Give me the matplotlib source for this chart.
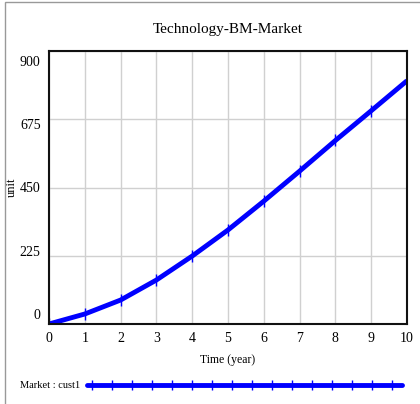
import numpy as np
import matplotlib.pyplot as plt
from matplotlib.lines import Line2D
from matplotlib.patches import Rectangle
import matplotlib.transforms as mtransforms

plt.rcParams['font.family'] = 'Liberation Serif'

# dati
years = [0, 1, 2, 3, 4, 5, 6, 7, 8, 9, 10]
cust1 = [0, 33, 79, 145, 224, 310, 405, 504, 605, 703, 802]
y_ticks = [0, 225, 450, 675, 900]
x_ticks = [0, 1, 2, 3, 4, 5, 6, 7, 8, 9, 10]

fig = plt.figure(figsize=(4.2, 4.04), dpi=100)
ax = fig.add_axes([49/420, 1-324/404, (407-49)/420, (324-51)/404])

ax.plot(years, cust1, color=(0, 0, 1), linewidth=3.5, marker='|', markersize=8,
        markeredgewidth=1, solid_capstyle='butt')
ax.set_xlim(0, 10)
ax.set_ylim(0, 900)
ax.set_xticks(x_ticks)
ax.set_yticks(y_ticks)
ax.grid(True, color='#d0d0d0', linewidth=1)
ax.set_axisbelow(True)
ax.tick_params(length=0, labelsize=10, pad=6)
for s in ax.spines.values():
    s.set_linewidth(1.5)
    s.set_color('#111111')

# le etichette y sono compresse verso il centro (stile Vensim)
for v, lab in zip(y_ticks, ax.get_yticklabels()):
    dy = -(v - 450) / 450 * 10 * 0.72
    lab.set_transform(lab.get_transform() + mtransforms.ScaledTranslation(0, dy/72, fig.dpi_scale_trans))

ax.set_xlabel('Time (year)', fontsize=8.5, labelpad=6)
ax.set_ylabel('unit', fontsize=9)
ax.yaxis.set_label_coords(-31/358, 0.5)
ax.set_title('Technology-BM-Market', fontsize=11, pad=13)

# legenda in basso
fig.text(20/420, 1-385/404, 'Market : cust1', fontsize=7.5, va='center', ha='left')
lx = np.linspace(92/420, 392/420, 16)
fig.add_artist(Line2D([87/420, 402/420], [1-385/404, 1-385/404], color=(0, 0, 1),
                      linewidth=3.5, solid_capstyle='round'))
fig.add_artist(Line2D(lx, np.full(16, 1-385/404), color=(0, 0, 1), linestyle='none',
                      marker='|', markersize=7, markeredgewidth=1))

# cornice grigia esterna
fig.add_artist(Rectangle((5/420, -0.1), 1.2, 1.1 - 2/404, transform=fig.transFigure,
                         fill=False, edgecolor='#999999', linewidth=1))

fig.savefig('out.png', dpi=100)
